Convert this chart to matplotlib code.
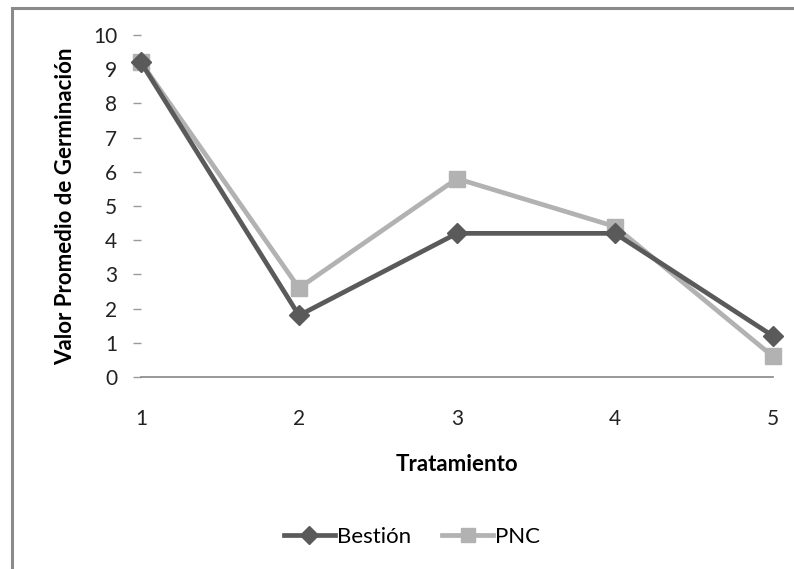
import matplotlib
matplotlib.use("Agg")
import matplotlib.pyplot as plt
from matplotlib.patches import Rectangle
from matplotlib.lines import Line2D

plt.rcParams['font.family'] = ['Lato', 'DejaVu Sans']

tratamientos = [1, 2, 3, 4, 5]
bestion = [9.2, 1.8, 4.2, 4.2, 1.2]
pnc = [9.2, 2.6, 5.8, 4.4, 0.6]
y_ticks = [0, 1, 2, 3, 4, 5, 6, 7, 8, 9, 10]

W, H = 794, 569
fig = plt.figure(figsize=(W / 100, H / 100), dpi=100)
ax = fig.add_axes([141 / W, (H - 377) / H, (773 - 141) / W, (377 - 35) / H])

dark = '#5A5A5A'
light = '#B2B2B2'

ax.plot(tratamientos, bestion, color=dark, lw=3.4, marker='D', ms=10,
        markeredgecolor=dark, markerfacecolor=dark, clip_on=False, zorder=3,
        label='Bestión')
ax.plot(tratamientos, pnc, color=light, lw=3.4, marker='s', ms=12,
        markeredgecolor=light, markerfacecolor=light, clip_on=False, zorder=2,
        label='PNC')

ax.set_xlim(1, 5)
ax.set_ylim(0, 10)
ax.set_xticks(tratamientos)
ax.set_yticks(y_ticks)

for s in ['left', 'right', 'top']:
    ax.spines[s].set_visible(False)
ax.spines['bottom'].set_color('#868686')
ax.spines['bottom'].set_linewidth(1.2)

ax.tick_params(axis='y', length=6, width=1, color='#9A9A9A', pad=11,
               labelsize=15, labelcolor='#222222')
ax.tick_params(axis='x', length=0, pad=23, labelsize=15, labelcolor='#222222')

ax.set_xlabel('Tratamiento', fontsize=16, fontweight='bold', labelpad=18)
ax.set_ylabel('Valor Promedio de Germinación', fontsize=16, fontweight='bold',
              labelpad=12)

handles = [
    Line2D([0], [0], color=dark, lw=3.4, marker='D', ms=9, label='Bestión'),
    Line2D([0], [0], color=light, lw=3.4, marker='s', ms=10, label='PNC'),
]
fig.legend(handles=handles, loc='center', bbox_to_anchor=(412 / W, (H - 537) / H),
           ncol=2, frameon=False, fontsize=16, handlelength=2.3,
           columnspacing=1.4, handletextpad=0.1)

# outer frame (chart area border, cropped at right and bottom)
fig.patches.append(Rectangle((12 / W, -0.1), 1.2, (H - 8) / H + 0.1,
                             transform=fig.transFigure, fill=False,
                             edgecolor='#8A8A8A', lw=2.2, zorder=0))

fig.savefig('out.png', dpi=100)
